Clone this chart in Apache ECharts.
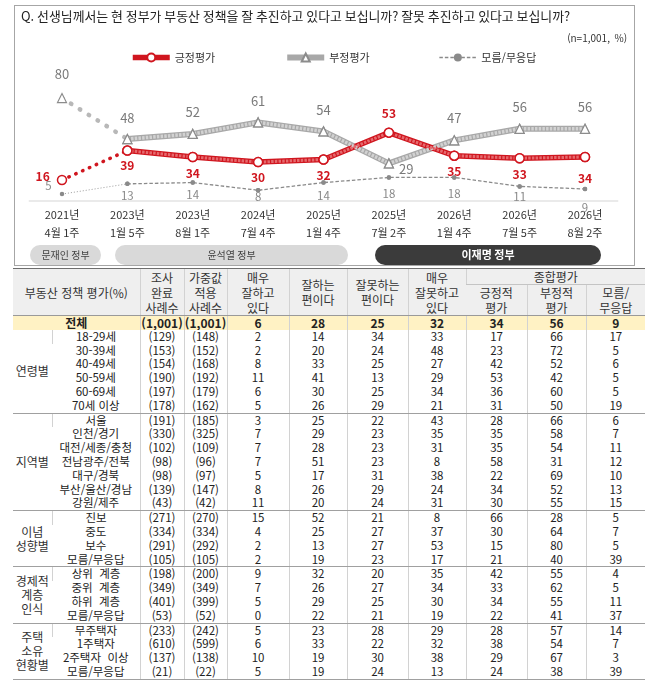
<!DOCTYPE html>
<html lang="ko">
<head>
<meta charset="utf-8">
<title>부동산 정책 평가</title>
<script src="https://cdn.jsdelivr.net/npm/echarts@6/dist/echarts.min.js"></script>
<style>
    html, body {
        margin: 0;
        padding: 0;
        background: #fff;
    }
    body {
        width: 651px;
        height: 683px;
        position: relative;
        overflow: hidden;
        font-family: "Noto Sans CJK KR", sans-serif;
    }
    #box {
        position: absolute;
        left: 14px;
        top: 5px;
        width: 619px;
        height: 259px;
        border: 1.5px solid #a6a6a6;
    }
    #chart {
        position: absolute;
        left: 0;
        top: 0;
        width: 651px;
        height: 268px;
    }
    #tbl {
        position: absolute;
        left: 13px;
        top: 268px;
        width: 632px;
        border-collapse: collapse;
        table-layout: fixed;
        font-size: 11.5px;
        color: #222;
    }
    #tbl td {
        padding: 0;
        text-align: center;
        vertical-align: middle;
        white-space: nowrap;
        overflow: hidden;
        border-left: 1px solid #d2d2d2;
    }
    #tbl thead td {
        background: #efefef;
        font-size: 12px;
        line-height: 15px;
        color: #333;
    }
    #tbl thead tr:first-child td {
        border-top: 1.5px solid #6e6e6e;
    }
    #tbl thead tr:last-child td, #tbl thead td.full {
        border-bottom: 1px solid #9a9a9a;
    }
    #tbl td.sum {
        border-bottom: 1px solid #c4c4c4;
    }
    #tbl tbody td {
        height: 13.8px;
        line-height: 13.8px;
    }
    #tbl tr.total td {
        background: #fff2c4;
        font-weight: bold;
        font-size: 12px;
    }
    #tbl tr.sep td, #tbl td.grp {
        border-bottom: 1px solid #a0a0a0;
    }
    #tbl td.grp {
        font-size: 12px;
        color: #333;
        line-height: 14px;
        white-space: normal;
    }
    #tbl td:first-child {
        border-left: none;
    }
</style>
</head>
<body>
<div id="box"></div>
<div id="chart"></div>
<table id="tbl">
    <colgroup>
        <col style="width:39px"><col style="width:88px"><col style="width:44px"><col style="width:43px">
        <col style="width:62px"><col style="width:58px"><col style="width:61px"><col style="width:58px">
        <col style="width:61px"><col style="width:59px"><col style="width:59px">
    </colgroup>
    <thead>
        <tr style="height:15px">
            <td colspan="2" rowspan="2" class="full">부동산 정책 평가(%)</td>
            <td rowspan="2" class="full">조사<br>완료<br>사례수</td>
            <td rowspan="2" class="full">가중값<br>적용<br>사례수</td>
            <td rowspan="2" class="full">매우<br>잘하고<br>있다</td>
            <td rowspan="2" class="full">잘하는<br>편이다</td>
            <td rowspan="2" class="full">잘못하는<br>편이다</td>
            <td rowspan="2" class="full">매우<br>잘못하고<br>있다</td>
            <td colspan="3" class="sum">종합평가</td>
        </tr>
        <tr style="height:30px">
            <td>긍정적<br>평가</td>
            <td>부정적<br>평가</td>
            <td>모름/<br>무응답</td>
        </tr>
    </thead>
    <tbody id="body"></tbody>
</table>

<script>
    // 추이 차트 데이터
    var categories = ['2021년\n4월 1주', '2023년\n1월 5주', '2023년\n8월 1주', '2024년\n7월 4주', '2025년\n1월 4주',
                      '2025년\n7월 2주', '2026년\n1월 4주', '2026년\n7월 5주', '2026년\n8월 2주'];
    var positive = [16, 39, 34, 30, 32, 53, 35, 33, 34];
    var negative = [80, 48, 52, 61, 54, 29, 47, 56, 56];
    var unknown  = [5, 13, 14, 8, 14, 18, 18, 11, 9];

    // 표 데이터: [구분, 조사완료, 가중값적용, 매우잘함, 잘하는편, 잘못하는편, 매우잘못, 긍정, 부정, 모름]
    var totalRow = ['(1,001)', '(1,001)', 6, 28, 25, 32, 34, 56, 9];
    var ageRows = [
        ['18-29세', '(129)', '(148)', 2, 14, 34, 33, 17, 66, 17],
        ['30-39세', '(153)', '(152)', 2, 20, 24, 48, 23, 72, 5],
        ['40-49세', '(154)', '(168)', 8, 33, 25, 27, 42, 52, 6],
        ['50-59세', '(190)', '(192)', 11, 41, 13, 29, 53, 42, 5],
        ['60-69세', '(197)', '(179)', 6, 30, 25, 34, 36, 60, 5],
        ['70세 이상', '(178)', '(162)', 5, 26, 29, 21, 31, 50, 19]
    ];
    var regionRows = [
        ['서울', '(191)', '(185)', 3, 25, 22, 43, 28, 66, 6],
        ['인천/경기', '(330)', '(325)', 7, 29, 23, 35, 35, 58, 7],
        ['대전/세종/충청', '(102)', '(109)', 7, 28, 23, 31, 35, 54, 11],
        ['전남광주/전북', '(98)', '(96)', 7, 51, 23, 8, 58, 31, 12],
        ['대구/경북', '(98)', '(97)', 5, 17, 31, 38, 22, 69, 10],
        ['부산/울산/경남', '(139)', '(147)', 8, 26, 29, 24, 34, 52, 13],
        ['강원/제주', '(43)', '(42)', 11, 20, 24, 31, 30, 55, 15]
    ];
    var ideologyRows = [
        ['진보', '(271)', '(270)', 15, 52, 21, 8, 66, 28, 5],
        ['중도', '(334)', '(334)', 4, 25, 27, 37, 30, 64, 7],
        ['보수', '(291)', '(292)', 2, 13, 27, 53, 15, 80, 5],
        ['모름/무응답', '(105)', '(105)', 2, 19, 23, 17, 21, 40, 39]
    ];
    var classRows = [
        ['상위  계층', '(198)', '(200)', 9, 32, 20, 35, 42, 55, 4],
        ['중위  계층', '(349)', '(349)', 7, 26, 27, 34, 33, 62, 5],
        ['하위  계층', '(401)', '(399)', 5, 29, 25, 30, 34, 55, 11],
        ['모름/무응답', '(53)', '(52)', 0, 22, 21, 19, 22, 41, 37]
    ];
    var housingRows = [
        ['무주택자', '(233)', '(242)', 5, 23, 28, 29, 28, 57, 14],
        ['1주택자', '(610)', '(599)', 6, 33, 22, 32, 38, 54, 7],
        ['2주택자  이상', '(137)', '(138)', 10, 19, 30, 38, 29, 67, 3],
        ['모름/무응답', '(21)', '(22)', 5, 19, 24, 13, 24, 38, 39]
    ];
    var groups = [
        ['연령별', ageRows],
        ['지역별', regionRows],
        ['이념<br>성향별', ideologyRows],
        ['경제적<br>계층<br>인식', classRows],
        ['주택<br>소유<br>현황별', housingRows]
    ];

    // 라벨 위치 [position, distance, offset]
    var posPlace = [['left', 7, [0, -4]], ['bottom', 4], ['bottom', 5], ['bottom', 4], ['bottom', 5],
                    ['top', 8], ['bottom', 4], ['bottom', 5], ['bottom', 10]];
    var negPlace = [['top', 12], ['top', 9], ['top', 10], ['top', 10], ['top', 10],
                    ['right', 5, [0, 6]], ['top', 11], ['top', 10], ['top', 10]];
    var unkPlace = [['left', 8, [0, -8]], ['bottom', 4], ['bottom', 4], ['bottom', -2], ['bottom', 5],
                    ['bottom', 8], ['bottom', 8], ['bottom', 2], ['bottom', 11]];

    function buildTable() {
        var html = '<tr class="total"><td colspan="2">전체</td>';
        totalRow.forEach(function (v) { html += '<td>' + v + '</td>'; });
        html += '</tr>';
        groups.forEach(function (g) {
            var rows = g[1];
            rows.forEach(function (r, i) {
                html += '<tr' + (i === rows.length - 1 ? ' class="sep"' : '') + '>';
                if (i === 0) html += '<td class="grp" rowspan="' + rows.length + '">' + g[0] + '</td>';
                r.forEach(function (v) { html += '<td>' + String(v).replace(/  /g, '&nbsp;&nbsp;') + '</td>'; });
                html += '</tr>';
            });
        });
        document.getElementById('body').innerHTML = html;
    }

    function firstSeg(arr) {
        return arr.map(function (v, i) { return i < 2 ? v : '-'; });
    }
    function restSeg(arr) {
        return arr.map(function (v, i) { return i >= 1 ? v : '-'; });
    }
    function labelled(arr, place) {
        return arr.map(function (v, i) {
            var p = place[i];
            return {value: v, label: {position: p[0], distance: p[1], offset: p[2] || [0, 0]}};
        });
    }

    function showChart() {
        var myChart = echarts.init(document.getElementById('chart'));
        var red = '#d0161f';
        var triStyle = {color: '#fff', borderColor: '#8c8c8c', borderWidth: 1.2};
        var dotStyle = {color: '#fff', borderColor: red, borderWidth: 1.5};

        var option = {
            animation: false,
            title: [{
                text: 'Q. 선생님께서는 현 정부가 부동산 정책을 잘 추진하고 있다고 보십니까? 잘못 추진하고 있다고 보십니까?',
                left: 21, top: 10, padding: 0,
                textStyle: {fontSize: 12.9, fontWeight: 'normal', color: '#222', fontFamily: 'Noto Sans CJK KR'}
            }, {
                text: '(n=1,001,  %)',
                right: 24, top: 33, padding: 0,
                textStyle: {fontSize: 10, fontWeight: 'normal', color: '#333', fontFamily: 'Noto Sans CJK KR'}
            }],
            legend: {
                data: ['긍정평가', '부정평가', '모름/무응답'],
                left: 130, top: 52, padding: 0,
                itemWidth: 37, itemHeight: 10, itemGap: 69,
                lineStyle: {width: 'inherit'},
                textStyle: {fontSize: 11, color: '#333', fontFamily: 'Noto Sans CJK KR'}
            },
            grid: {left: 29.3, right: 33.3, top: 72.5, height: 128},
            xAxis: {
                type: 'category',
                data: categories,
                boundaryGap: true,
                axisLine: {lineStyle: {color: '#e3e3e3', width: 1.5}},
                axisTick: {show: false},
                axisLabel: {color: '#333', fontSize: 11, lineHeight: 17.5, margin: 6, interval: 0,
                            fontFamily: 'Noto Sans CJK KR'}
            },
            yAxis: {type: 'value', min: 0, max: 100, show: false},
            series: [
                // 부정평가
                {name: 'neg_dot', type: 'line', data: firstSeg(negative), symbol: 'none', silent: true, z: 2,
                 lineStyle: {color: '#b8b8b8', width: 4.5, type: [0.5, 10], cap: 'round'}},
                {name: '부정평가', type: 'line', data: restSeg(negative), symbol: 'triangle', symbolSize: 9,
                 itemStyle: triStyle, lineStyle: {color: '#a8a8a8', width: 6}, z: 2},
                {name: 'neg_hatch', type: 'line', data: restSeg(negative), symbol: 'none', silent: true, z: 3,
                 lineStyle: {color: '#d2d2d2', width: 3.5, type: [2.5, 1.2]}},
                {name: 'neg_mark', type: 'line', data: labelled(negative, negPlace), symbol: 'triangle', symbolSize: 9,
                 itemStyle: triStyle, lineStyle: {opacity: 0}, silent: true, z: 5,
                 label: {show: true, color: '#7a7a7a', fontSize: 13, fontFamily: 'Noto Sans CJK KR'}},

                // 긍정평가
                {name: 'pos_dot', type: 'line', data: firstSeg(positive), symbol: 'none', silent: true, z: 2,
                 lineStyle: {color: red, width: 3.5, type: [0.5, 7], cap: 'round'}},
                {name: '긍정평가', type: 'line', data: restSeg(positive), symbol: 'circle', symbolSize: 9,
                 itemStyle: dotStyle, lineStyle: {color: red, width: 5.5}, z: 2},
                {name: 'pos_hatch', type: 'line', data: restSeg(positive), symbol: 'none', silent: true, z: 3,
                 lineStyle: {color: '#e56a6e', width: 3, type: [2.5, 1.2]}},
                {name: 'pos_mark', type: 'line', data: labelled(positive, posPlace), symbol: 'circle', symbolSize: 9,
                 itemStyle: dotStyle, lineStyle: {opacity: 0}, silent: true, z: 5,
                 label: {show: true, color: red, fontSize: 12, fontWeight: 'bold', fontFamily: 'Noto Sans CJK KR'}},

                // 모름/무응답
                {name: 'unk_dot', type: 'line', data: firstSeg(unknown), symbol: 'none', silent: true, z: 2,
                 lineStyle: {color: '#999', width: 1, type: [1, 2]}},
                {name: '모름/무응답', type: 'line', data: restSeg(unknown), symbol: 'circle', symbolSize: 4.5,
                 itemStyle: {color: '#8a8a8a'}, lineStyle: {color: '#8a8a8a', width: 1.3, type: [3.5, 2]}, z: 2},
                {name: 'unk_mark', type: 'line', data: labelled(unknown, unkPlace), symbol: 'circle', symbolSize: 4.5,
                 itemStyle: {color: '#8a8a8a'}, lineStyle: {opacity: 0}, silent: true, z: 5,
                 label: {show: true, color: '#8a8a8a', fontSize: 11.5, fontFamily: 'Noto Sans CJK KR'}}
            ],
            graphic: [
                {type: 'rect', shape: {x: 30, y: 245, width: 71, height: 20, r: 10}, style: {fill: '#d9d9d9'}},
                {type: 'text', x: 65.5, y: 255, style: {text: '문재인 정부', fill: '#444', align: 'center',
                    verticalAlign: 'middle', font: '10px "Noto Sans CJK KR"'}},
                {type: 'rect', shape: {x: 115, y: 245, width: 233, height: 20, r: 10}, style: {fill: '#d9d9d9'}},
                {type: 'text', x: 231.5, y: 255, style: {text: '윤석열 정부', fill: '#444', align: 'center',
                    verticalAlign: 'middle', font: '10px "Noto Sans CJK KR"'}},
                {type: 'rect', shape: {x: 375, y: 245, width: 226, height: 20, r: 10}, style: {fill: '#3b3b3b'}},
                {type: 'text', x: 488, y: 255, style: {text: '이재명 정부', fill: '#fff', align: 'center',
                    verticalAlign: 'middle', font: 'bold 11px "Noto Sans CJK KR"'}}
            ]
        };
        myChart.setOption(option);
    }

    buildTable();
    showChart();
</script>
</body>
</html>
